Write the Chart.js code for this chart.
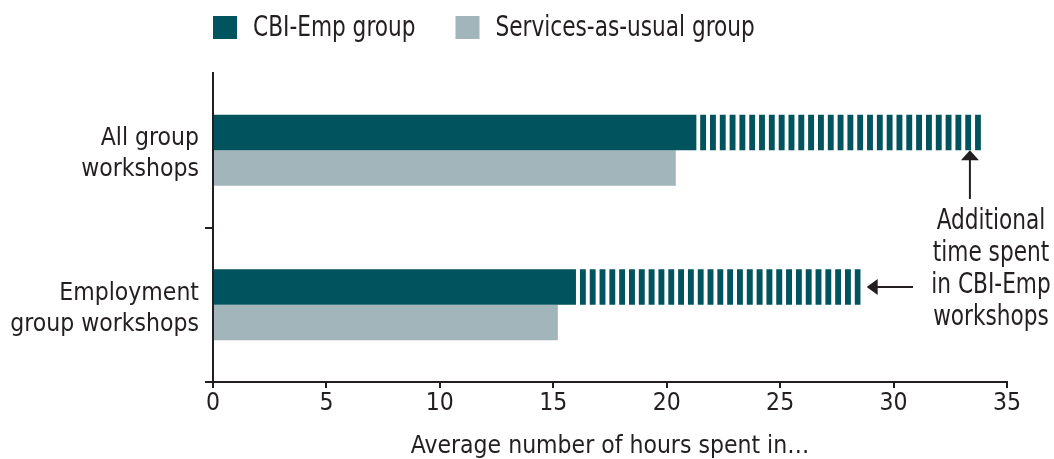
<!DOCTYPE html>
<html>
<head>
<meta charset="utf-8">
<script src="https://cdn.jsdelivr.net/npm/chart.js@4.4.1/dist/chart.umd.min.js"></script>
<style>
  html, body { margin: 0; padding: 0; background: #ffffff; }
  #c { display: block; }
</style>
</head>
<body>
<canvas id="c" width="1054" height="459"></canvas>
<script>
// ---- data ----
const categories = [["All group", "workshops"], ["Employment", "group workshops"]];
const cbiHours = [21.3, 16.0];          // CBI-Emp group (solid part)
const cbiExtraHours = [12.55, 12.55];   // additional time spent in CBI-Emp workshops (striped part)
const sauHours = [20.4, 15.2];          // Services-as-usual group
const xTicks = [0, 5, 10, 15, 20, 25, 30, 35];
const seriesNames = ["CBI-Emp group", "Services-as-usual group"];
const annotationLines = ["Additional", "time spent", "in CBI-Emp", "workshops"];
const xTitle = "Average number of hours spent in\u2026";

// ---- style ----
const DARK = "#01535d";
const LIGHT = "#a1b5ba";
const INK = "#231f20";
const FAMILY = "'DejaVu Sans Condensed', 'Liberation Sans', sans-serif";
const FS = 24.5;        // library-drawn text
const FS_BIG = 28;      // plugin-drawn text (condensed horizontally)
const SQUEEZE = 0.86;

// stripe tile: 4px gap, 6px stripe
const tile = document.createElement("canvas");
tile.width = 10; tile.height = 10;
(function () {
  const g = tile.getContext("2d");
  g.fillStyle = "#ffffff"; g.fillRect(0, 0, 10, 10);
  g.fillStyle = DARK; g.fillRect(4, 0, 6, 10);
})();

function stripeFill(ctx) {
  const chart = ctx.chart;
  const xs = chart.scales && chart.scales.x;
  if (!xs || ctx.type !== "data" || !isFinite(xs.getPixelForValue(0))) return DARK;
  const i = ctx.dataIndex;
  const s = xs.getPixelForValue(cbiHours[i]);
  const e = xs.getPixelForValue(cbiHours[i] + cbiExtraHours[i]);
  const W = e - s;
  const n = Math.max(1, Math.round(W / 9.83));
  const p = W / n;
  const pat = chart.ctx.createPattern(tile, "repeat");
  pat.setTransform(new DOMMatrix().translate(s, 0).scale(p / 10, 1));
  return pat;
}

function squeezedText(ctx, text, x, y, align) {
  ctx.save();
  ctx.translate(x, y);
  ctx.scale(SQUEEZE, 1);
  ctx.textAlign = align;
  ctx.fillText(text, 0, 0);
  ctx.restore();
  return ctx.measureText(text).width * SQUEEZE;
}

// custom legend + annotation plugin
const extras = {
  id: "extras",
  afterDraw(chart) {
    const ctx = chart.ctx;
    const area = chart.chartArea;
    ctx.save();
    ctx.font = FS_BIG + "px " + FAMILY;
    ctx.textBaseline = "middle";
    // legend
    const legendItems = [
      { text: chart.data.datasets[0].label, color: DARK },
      { text: chart.data.datasets[2].label, color: LIGHT }
    ];
    let x = area.left;
    const boxTop = 16, boxW = 24, boxH = 23;
    legendItems.forEach(it => {
      ctx.fillStyle = it.color;
      ctx.fillRect(x, boxTop, boxW, boxH);
      x += boxW + 16;
      ctx.fillStyle = INK;
      const w = squeezedText(ctx, it.text, x, boxTop + boxH / 2 + 1, "left");
      x += w + 40;
    });

    // annotations
    const xs = chart.scales.x;
    const meta = chart.getDatasetMeta(1);
    const b0 = meta.data[0], b1 = meta.data[1];
    ctx.strokeStyle = INK;
    ctx.fillStyle = INK;
    ctx.lineWidth = 2;

    // vertical arrow under first striped bar
    const ax = xs.getPixelForValue(cbiHours[0] + cbiExtraHours[0]) - 11;
    const tipY = b0.y + b0.height / 2;
    ctx.beginPath();
    ctx.moveTo(ax, tipY + 8);
    ctx.lineTo(ax, 199);
    ctx.stroke();
    ctx.beginPath();
    ctx.moveTo(ax, tipY);
    ctx.lineTo(ax - 9, tipY + 10);
    ctx.lineTo(ax + 9, tipY + 10);
    ctx.closePath();
    ctx.fill();

    // horizontal arrow pointing to second striped bar
    const hx = xs.getPixelForValue(cbiHours[1] + cbiExtraHours[1]) + 6;
    const hy = b1.y;
    ctx.beginPath();
    ctx.moveTo(hx + 8, hy);
    ctx.lineTo(913, hy);
    ctx.stroke();
    ctx.beginPath();
    ctx.moveTo(hx, hy);
    ctx.lineTo(hx + 11, hy - 8);
    ctx.lineTo(hx + 11, hy + 8);
    ctx.closePath();
    ctx.fill();

    // annotation text
    annotationLines.forEach((t, k) => {
      squeezedText(ctx, t, 991, hy + (k - 2) * 32 - 1, "center");
    });
    ctx.restore();
  }
};

new Chart(document.getElementById("c"), {
  type: "bar",
  data: {
    labels: categories,
    datasets: [
      { label: seriesNames[0], data: cbiHours, backgroundColor: DARK, stack: "cbi" },
      { label: "Additional time", data: cbiExtraHours, backgroundColor: stripeFill, stack: "cbi" },
      { label: seriesNames[1], data: sauHours, backgroundColor: LIGHT, stack: "sau" }
    ]
  },
  options: {
    indexAxis: "y",
    responsive: false,
    animation: false,
    events: [],
    datasets: { bar: { categoryPercentage: 0.46, barPercentage: 1, borderWidth: 0 } },
    layout: { padding: { top: 73, right: 47, left: 0, bottom: 0 } },
    plugins: { legend: { display: false }, tooltip: { enabled: false } },
    scales: {
      x: {
        stacked: true,
        min: 0, max: 35,
        afterBuildTicks: (s) => { s.ticks = xTicks.map(v => ({ value: v })); },
        ticks: { color: INK, font: { family: FAMILY, size: FS, lineHeight: 1 }, padding: 3, maxRotation: 0, autoSkip: false },
        grid: { drawOnChartArea: false, tickLength: 6, color: INK, lineWidth: 2 },
        border: { color: INK, width: 2 },
        title: { display: true, text: xTitle, color: INK, font: { family: FAMILY, size: FS, lineHeight: 1 }, padding: { top: 0, bottom: 0 } },
        afterFit: (s) => { s.height = 77; }
      },
      y: {
        stacked: true,
        ticks: { color: INK, font: { family: FAMILY, size: FS, lineHeight: "31px" }, padding: 6, labelOffset: 4 },
        grid: { offset: true, drawOnChartArea: false, tickLength: 8, lineWidth: 2,
                color: (c) => c.index === 0 ? "rgba(0,0,0,0)" : INK },
        border: { color: INK, width: 2 },
        afterFit: (s) => { s.width = 213; }
      }
    }
  },
  plugins: [extras]
});
</script>
</body>
</html>
